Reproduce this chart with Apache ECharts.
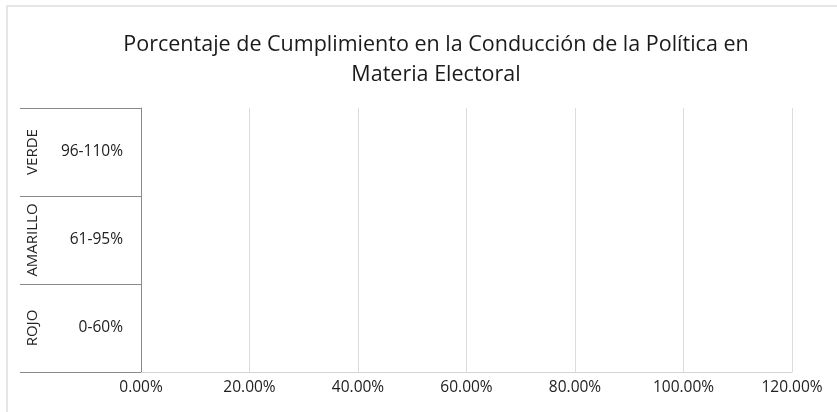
<!DOCTYPE html>
<html>
<head>
<meta charset="utf-8">
<script src="https://cdn.jsdelivr.net/npm/echarts@6/dist/echarts.min.js"></script>
<style>
  html, body { margin: 0; padding: 0; background: #fff; }
  #main { width: 837px; height: 412px; }
</style>
</head>
<body>
<div id="main"></div>
<script>
// category rows, bottom to top (Excel draws the first row at the bottom)
var ranges = ['0-60%', '61-95%', '96-110%'];
var groups = ['ROJO', 'AMARILLO', 'VERDE'];
// compliance values: the chart is empty, no bars shown
var values = [null, null, null];

var xMin = 0;
var xMax = 1.2;
var xStep = 0.2;

var myChart = echarts.init(document.getElementById('main'));

var font = '"Open Sans", "Noto Sans", sans-serif';

myChart.setOption({
  textStyle: { fontFamily: font },
  // faint chart border from the scanned original
  graphic: [
    {
      type: 'rect',
      silent: true,
      shape: { x: 7, y: 6, width: 850, height: 430 },
      style: { fill: 'none', stroke: '#dedede', lineWidth: 1.5 }
    }
  ],
  title: {
    text: 'Porcentaje de Cumplimiento en la Conducción de la Política en\nMateria Electoral',
    left: 431,
    top: 25,
    textAlign: 'center',
    textStyle: {
      fontFamily: font,
      fontSize: 21.5,
      fontWeight: 'normal',
      color: '#1a1a1a',
      lineHeight: 30
    }
  },
  grid: {
    left: 141,
    right: 45,
    top: 108,
    bottom: 40
  },
  xAxis: {
    type: 'value',
    min: xMin,
    max: xMax,
    interval: xStep,
    axisLine: { show: true, lineStyle: { color: '#d4d4d4' } },
    axisTick: { show: false },
    splitLine: { show: true, lineStyle: { color: '#dcdcdc' } },
    axisLabel: {
      color: '#222',
      fontSize: 15.5,
      margin: 8,
      formatter: function (v) {
        return (v * 100).toFixed(2) + '%';
      }
    }
  },
  yAxis: [
    {
      type: 'category',
      data: ranges,
      axisLine: { show: true, lineStyle: { color: '#8a8a8a' } },
      axisTick: { show: true, length: 121, lineStyle: { color: '#8a8a8a' } },
      axisLabel: { color: '#222', fontSize: 15.5, margin: 18, interval: 0 }
    },
    {
      type: 'category',
      data: groups,
      position: 'left',
      offset: 108,
      axisLine: { show: false },
      axisTick: { show: false },
      axisLabel: {
        color: '#222',
        fontSize: 15,
        rotate: 90,
        interval: 0,
        hideOverlap: false,
        margin: 0,
        align: 'center',
        verticalAlign: 'middle'
      }
    }
  ],
  series: [
    {
      type: 'bar',
      yAxisIndex: 0,
      data: values,
      itemStyle: { color: '#4472c4' }
    }
  ]
});
</script>
</body>
</html>
